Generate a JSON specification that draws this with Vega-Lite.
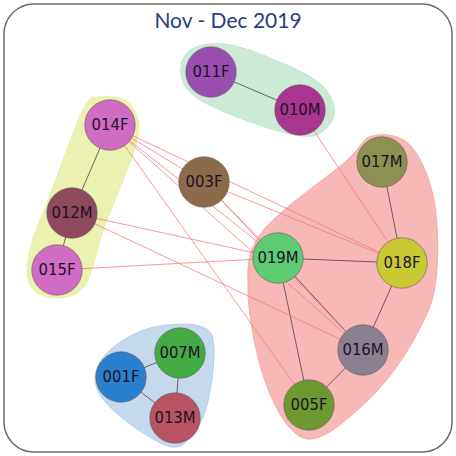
{
  "$schema": "https://vega.github.io/schema/vega-lite/v6.json",
  "width": 448,
  "height": 448,
  "autosize": {"type": "none"},
  "padding": 4,
  "background": "white",
  "config": {"view": {"stroke": "#6a6a6a", "strokeWidth": 1.5, "cornerRadius": 30}},
  "datasets": {
    "nodes": [
      {"id": "011F", "x": 211, "y": 72, "c": "#9a4fb0"},
      {"id": "010M", "x": 300, "y": 110, "c": "#a8368e"},
      {"id": "014F", "x": 110, "y": 125, "c": "#d06cc4"},
      {"id": "003F", "x": 204, "y": 182, "c": "#8c6a4a"},
      {"id": "017M", "x": 382, "y": 162, "c": "#8c9050"},
      {"id": "012M", "x": 72, "y": 213, "c": "#8c4a5c"},
      {"id": "019M", "x": 278, "y": 258, "c": "#5ccb72"},
      {"id": "018F", "x": 402, "y": 263, "c": "#c8c832"},
      {"id": "015F", "x": 57, "y": 270, "c": "#d06cc4"},
      {"id": "016M", "x": 363, "y": 350, "c": "#8a8090"},
      {"id": "007M", "x": 180, "y": 353, "c": "#44aa44"},
      {"id": "001F", "x": 121, "y": 377, "c": "#2a80cc"},
      {"id": "013M", "x": 175, "y": 418, "c": "#b85462"},
      {"id": "005F", "x": 309, "y": 405, "c": "#6c9a30"}
    ],
    "edges": [
      {"source": "011F", "target": "010M", "kind": "in"},
      {"source": "014F", "target": "012M", "kind": "in"},
      {"source": "012M", "target": "015F", "kind": "in"},
      {"source": "017M", "target": "018F", "kind": "in"},
      {"source": "019M", "target": "018F", "kind": "in"},
      {"source": "019M", "target": "016M", "kind": "in"},
      {"source": "019M", "target": "005F", "kind": "in"},
      {"source": "018F", "target": "016M", "kind": "in"},
      {"source": "016M", "target": "005F", "kind": "in"},
      {"source": "001F", "target": "007M", "kind": "in"},
      {"source": "001F", "target": "013M", "kind": "in"},
      {"source": "007M", "target": "013M", "kind": "in"},
      {"source": "010M", "target": "018F", "kind": "out"},
      {"source": "014F", "target": "003F", "kind": "out"},
      {"source": "014F", "target": "019M", "kind": "out"},
      {"source": "014F", "target": "018F", "kind": "out"},
      {"source": "014F", "target": "016M", "kind": "out"},
      {"source": "014F", "target": "005F", "kind": "out"},
      {"source": "003F", "target": "019M", "kind": "out"},
      {"source": "003F", "target": "018F", "kind": "out"},
      {"source": "003F", "target": "016M", "kind": "out"},
      {"source": "012M", "target": "019M", "kind": "out"},
      {"source": "012M", "target": "016M", "kind": "out"},
      {"source": "015F", "target": "019M", "kind": "out"}
    ],
    "hulls": [
      {"g": "a", "o": 1, "x": 190, "y": 50, "c": "#c2e7d0"},
      {"g": "a", "o": 2, "x": 225, "y": 44, "c": "#c2e7d0"},
      {"g": "a", "o": 3, "x": 275, "y": 60, "c": "#c2e7d0"},
      {"g": "a", "o": 4, "x": 322, "y": 85, "c": "#c2e7d0"},
      {"g": "a", "o": 5, "x": 334, "y": 115, "c": "#c2e7d0"},
      {"g": "a", "o": 6, "x": 312, "y": 136, "c": "#c2e7d0"},
      {"g": "a", "o": 7, "x": 262, "y": 126, "c": "#c2e7d0"},
      {"g": "a", "o": 8, "x": 200, "y": 100, "c": "#c2e7d0"},
      {"g": "a", "o": 9, "x": 181, "y": 75, "c": "#c2e7d0"},
      {"g": "b", "o": 1, "x": 100, "y": 97, "c": "#e8efa3"},
      {"g": "b", "o": 2, "x": 130, "y": 104, "c": "#e8efa3"},
      {"g": "b", "o": 3, "x": 137, "y": 140, "c": "#e8efa3"},
      {"g": "b", "o": 4, "x": 105, "y": 225, "c": "#e8efa3"},
      {"g": "b", "o": 5, "x": 85, "y": 285, "c": "#e8efa3"},
      {"g": "b", "o": 6, "x": 55, "y": 298, "c": "#e8efa3"},
      {"g": "b", "o": 7, "x": 30, "y": 285, "c": "#e8efa3"},
      {"g": "b", "o": 8, "x": 30, "y": 250, "c": "#e8efa3"},
      {"g": "b", "o": 9, "x": 50, "y": 195, "c": "#e8efa3"},
      {"g": "b", "o": 10, "x": 83, "y": 110, "c": "#e8efa3"},
      {"g": "c", "o": 1, "x": 372, "y": 136, "c": "#f6abab"},
      {"g": "c", "o": 2, "x": 410, "y": 145, "c": "#f6abab"},
      {"g": "c", "o": 3, "x": 434, "y": 200, "c": "#f6abab"},
      {"g": "c", "o": 4, "x": 436, "y": 280, "c": "#f6abab"},
      {"g": "c", "o": 5, "x": 418, "y": 332, "c": "#f6abab"},
      {"g": "c", "o": 6, "x": 378, "y": 390, "c": "#f6abab"},
      {"g": "c", "o": 7, "x": 322, "y": 436, "c": "#f6abab"},
      {"g": "c", "o": 8, "x": 290, "y": 428, "c": "#f6abab"},
      {"g": "c", "o": 9, "x": 262, "y": 372, "c": "#f6abab"},
      {"g": "c", "o": 10, "x": 248, "y": 290, "c": "#f6abab"},
      {"g": "c", "o": 11, "x": 262, "y": 232, "c": "#f6abab"},
      {"g": "c", "o": 12, "x": 345, "y": 162, "c": "#f6abab"},
      {"g": "d", "o": 1, "x": 150, "y": 328, "c": "#bad1eb"},
      {"g": "d", "o": 2, "x": 200, "y": 326, "c": "#bad1eb"},
      {"g": "d", "o": 3, "x": 214, "y": 348, "c": "#bad1eb"},
      {"g": "d", "o": 4, "x": 205, "y": 412, "c": "#bad1eb"},
      {"g": "d", "o": 5, "x": 180, "y": 446, "c": "#bad1eb"},
      {"g": "d", "o": 6, "x": 148, "y": 436, "c": "#bad1eb"},
      {"g": "d", "o": 7, "x": 108, "y": 405, "c": "#bad1eb"},
      {"g": "d", "o": 8, "x": 95, "y": 378, "c": "#bad1eb"},
      {"g": "d", "o": 9, "x": 110, "y": 350, "c": "#bad1eb"}
    ],
    "titles": [{"t": "Nov - Dec 2019", "x": 228, "y": 22}]
  },
  "layer": [
    {
      "data": {"name": "hulls"},
      "mark": {"type": "line", "interpolate": "cardinal-closed", "strokeWidth": 1, "fillOpacity": 0.85, "filled": true},
      "encoding": {
        "x": {"field": "x", "type": "quantitative", "scale": {"domain": [4, 452], "nice": false, "zero": false}, "axis": null},
        "y": {"field": "y", "type": "quantitative", "scale": {"domain": [4, 452], "reverse": true, "nice": false, "zero": false}, "axis": null},
        "detail": {"field": "g"},
        "order": {"field": "o"},
        "fill": {"field": "c", "type": "nominal", "scale": null},
        "stroke": {"field": "c", "type": "nominal", "scale": null}
      }
    },
    {
      "data": {"name": "edges"},
      "transform": [
        {"lookup": "source", "from": {"data": {"name": "nodes"}, "key": "id", "fields": ["x", "y"]}, "as": ["sx", "sy"]},
        {"lookup": "target", "from": {"data": {"name": "nodes"}, "key": "id", "fields": ["x", "y"]}, "as": ["tx", "ty"]}
      ],
      "mark": {"type": "rule", "strokeWidth": 1},
      "encoding": {
        "x": {"field": "sx", "type": "quantitative"},
        "y": {"field": "sy", "type": "quantitative"},
        "x2": {"field": "tx"},
        "y2": {"field": "ty"},
        "color": {"field": "kind", "type": "nominal", "scale": {"domain": ["in", "out"], "range": ["#5a4a4a", "#f07878"]}, "legend": null},
        "opacity": {"field": "kind", "type": "nominal", "scale": {"domain": ["in", "out"], "range": [0.85, 0.75]}, "legend": null}
      }
    },
    {
      "data": {"name": "nodes"},
      "mark": {"type": "point", "shape": "circle", "filled": true, "size": 2550, "opacity": 1, "stroke": "#6b5a5a", "strokeWidth": 1, "strokeOpacity": 0.6},
      "encoding": {
        "x": {"field": "x", "type": "quantitative"},
        "y": {"field": "y", "type": "quantitative"},
        "fill": {"field": "c", "type": "nominal", "scale": null}
      }
    },
    {
      "data": {"name": "nodes"},
      "mark": {"type": "text", "font": "DejaVu Sans Condensed", "fontSize": 16.5, "color": "#1e1028"},
      "encoding": {
        "x": {"field": "x", "type": "quantitative"},
        "y": {"field": "y", "type": "quantitative"},
        "text": {"field": "id"}
      }
    },
    {
      "data": {"name": "titles"},
      "mark": {"type": "text", "font": "Lato", "fontSize": 21, "color": "#283c82"},
      "encoding": {
        "x": {"field": "x", "type": "quantitative"},
        "y": {"field": "y", "type": "quantitative"},
        "text": {"field": "t"}
      }
    }
  ]
}
